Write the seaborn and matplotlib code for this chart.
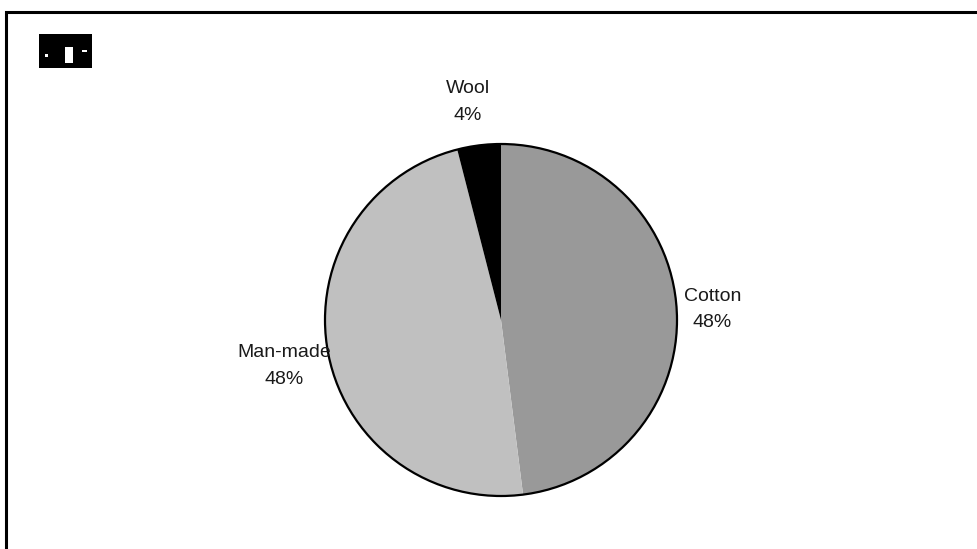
import matplotlib
matplotlib.use("Agg")
import matplotlib.pyplot as plt
from matplotlib.patches import Rectangle, Circle
import seaborn as sns

# === Data ===
fibres = ["Cotton", "Man-made", "Wool"]
shares = [48, 48, 4]
pct_labels = ["48%", "48%", "4%"]
fibre_colors = ["#999999", "#c0c0c0", "#000000"]

# label centres in pie units (radius = 1)
label_pos = [(1.20, 0.06), (-1.23, -0.26), (-0.19, 1.24)]

sns.set_theme(style="white")
plt.rcParams["font.family"] = ["Liberation Sans Narrow", "Liberation Sans", "DejaVu Sans"]

W, H = 977, 549
fig = plt.figure(figsize=(W / 100, H / 100), dpi=100)
fig.patch.set_facecolor("white")

# pie centre (501, 320) px, radius 176 px; axes a bit larger so the rim isn't clipped
cx, cy, r = 501, 320, 176
pad = 1.03
ax = fig.add_axes([(cx - r * pad) / W, (H - cy - r * pad) / H, 2 * r * pad / W, 2 * r * pad / H])

wedges, _ = ax.pie(
    shares,
    colors=fibre_colors,
    startangle=90,
    counterclock=False,
    radius=1,
    wedgeprops=dict(linewidth=0),
)
ax.add_patch(Circle((0, 0), 1, fill=False, edgecolor="black", linewidth=1.6))
ax.set_xlim(-pad, pad)
ax.set_ylim(-pad, pad)
ax.set_aspect("equal")
ax.axis("off")

for name, pct, (lx, ly) in zip(fibres, pct_labels, label_pos):
    ax.text(lx, ly, f"{name}\n{pct}", ha="center", va="center",
            multialignment="center", fontsize=14, linespacing=1.75,
            color="#1a1a1a", clip_on=False)

# outer frame (runs off the right and bottom edge)
fig.add_artist(Rectangle((6 / W, -0.05), 1.1, 1 - 12 / H + 0.05,
                         transform=fig.transFigure, fill=False,
                         edgecolor="black", linewidth=2.2, clip_on=False))

# small black logo box
fig.add_artist(Rectangle((39 / W, 1 - 68 / H), 53 / W, 34 / H,
                         transform=fig.transFigure, facecolor="black",
                         edgecolor="none"))
for x0, y0, w, h in [(45, 54, 3, 3), (65, 47, 8, 16), (82, 50, 5, 2)]:
    fig.add_artist(Rectangle((x0 / W, 1 - (y0 + h) / H), w / W, h / H,
                             transform=fig.transFigure, facecolor="white",
                             edgecolor="none"))

# title, cut off by the top edge (only descenders show)
fig.text(0.535, 1 + 4.5 / H, "Composition of apparel fibre consumption by fibre type, percentage",
         ha="center", va="baseline", fontsize=16, fontweight="bold")

fig.savefig("out.png", dpi=100)
